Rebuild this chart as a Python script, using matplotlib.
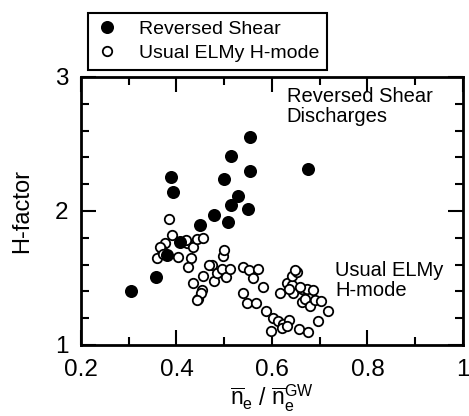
import numpy as np
import matplotlib
matplotlib.use("Agg")
import matplotlib.pyplot as plt
from matplotlib.ticker import MultipleLocator

plt.rcParams['font.family'] = ['Liberation Sans', 'DejaVu Sans']
plt.rcParams['mathtext.fontset'] = 'custom'
plt.rcParams['mathtext.rm'] = 'Liberation Sans'
plt.rcParams['mathtext.it'] = 'Liberation Sans'

### Reversed shear discharges
rs_x = [0.305, 0.357, 0.381, 0.388, 0.393, 0.407, 0.449, 0.479, 0.500,
        0.507, 0.515, 0.515, 0.528, 0.550, 0.555, 0.555, 0.675]
rs_y = [1.40, 1.505, 1.67, 2.25, 2.14, 1.77, 1.895, 1.97, 2.24,
        1.915, 2.045, 2.41, 2.11, 2.015, 2.30, 2.555, 2.31]

### usual ELMy H-mode
hm_x = [0.385, 0.391, 0.376, 0.369, 0.360, 0.404, 0.423, 0.434, 0.442, 0.456,
        0.430, 0.425, 0.434, 0.456, 0.453, 0.446, 0.451, 0.442, 0.479, 0.474,
        0.484, 0.495, 0.498, 0.500, 0.504, 0.513, 0.540, 0.552, 0.561, 0.540,
        0.547, 0.566, 0.571, 0.582, 0.587, 0.603, 0.613, 0.624, 0.636, 0.622,
        0.599, 0.631, 0.657, 0.676, 0.697, 0.617, 0.631, 0.641, 0.643, 0.652,
        0.648, 0.645, 0.662, 0.673, 0.685, 0.662, 0.669, 0.680, 0.690, 0.703,
        0.718, 0.658, 0.636, 0.420, 0.365, 0.469, 0.372]
hm_y = [1.94, 1.82, 1.76, 1.71, 1.65, 1.66, 1.76, 1.73, 1.79, 1.80,
        1.65, 1.58, 1.46, 1.515, 1.41, 1.34, 1.385, 1.335, 1.48, 1.60,
        1.535, 1.565, 1.665, 1.71, 1.51, 1.57, 1.58, 1.56, 1.50, 1.39,
        1.315, 1.31, 1.565, 1.43, 1.256, 1.20, 1.18, 1.157, 1.19, 1.125,
        1.105, 1.14, 1.12, 1.10, 1.18, 1.39, 1.46, 1.45, 1.515, 1.547,
        1.56, 1.386, 1.42, 1.42, 1.41, 1.32, 1.34, 1.29, 1.336, 1.33,
        1.256, 1.43, 1.42, 1.78, 1.73, 1.60, 1.68]

x_ticks = [0.2, 0.4, 0.6, 0.8, 1.0]
x_ticklabels = ['0.2', '0.4', '0.6', '0.8', '1']
y_ticks = [1, 2, 3]

fig = plt.figure(figsize=(4.69, 4.16), dpi=100)
ax = fig.add_axes([0.1727, 0.1707, 0.8143, 0.6443])

ax.plot(hm_x, hm_y, 'o', ms=6.8, mfc='white', mec='black', mew=1.3,
        label='Usual ELMy H-mode', zorder=2)
ax.plot(rs_x, rs_y, 'o', ms=9.4, mfc='black', mec='black', mew=0,
        label='Reversed Shear', zorder=3)

ax.set_xlim(0.2, 1.0)
ax.set_ylim(1, 3)
ax.xaxis.set_minor_locator(MultipleLocator(0.1))
ax.yaxis.set_minor_locator(MultipleLocator(0.2))
ax.set_xticks(x_ticks)
ax.set_xticklabels(x_ticklabels)
ax.set_yticks(y_ticks)
ax.set_yticklabels([str(v) for v in y_ticks])
ax.tick_params(which='both', direction='in', top=True, right=True,
               labelsize=17.5, width=1.5)
ax.tick_params(which='major', length=10.5)
ax.tick_params(which='minor', length=5.5)
ax.tick_params(axis='x', pad=10)
ax.tick_params(axis='y', pad=9)
for s in ax.spines.values():
    s.set_linewidth(2)

ax.set_ylabel('H-factor', fontsize=17, labelpad=16)
ax.set_xlabel(r'$\overline{\mathrm{n}}_\mathrm{e}\ /\ \overline{\mathrm{n}}_\mathrm{e}^{\mathrm{GW}}$',
              fontsize=16.5, labelpad=1)

ax.text(0.631, 2.78, 'Reversed Shear\nDischarges', fontsize=14.5,
        va='center', ha='left', linespacing=1.05)
ax.text(0.732, 1.48, 'Usual ELMy\nH-mode', fontsize=14.5,
        va='center', ha='left', linespacing=1.05)

h, l = ax.get_legend_handles_labels()
leg = fig.legend(h[::-1], l[::-1], loc='upper left',
                 bbox_to_anchor=(0.1876, 0.969), bbox_transform=fig.transFigure,
                 borderaxespad=0, fancybox=False, edgecolor='black',
                 fontsize=14, handletextpad=1.0, handlelength=1.2,
                 labelspacing=0.3, borderpad=0.4, framealpha=1)
leg.get_frame().set_linewidth(1.5)

fig.savefig('out.png', dpi=100)
